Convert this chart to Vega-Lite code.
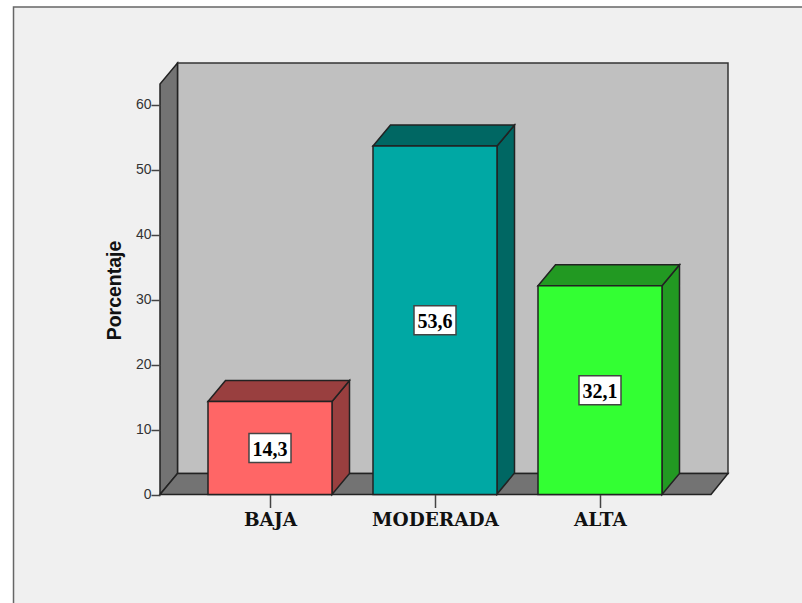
{
"$schema":"https://vega.github.io/schema/vega-lite/v6.json",
"width":568,"height":431.5,"autosize":"none",
"padding":{"left":160,"top":63,"right":74,"bottom":108.5},
"background":"#ffffff",
"config":{"view":{"stroke":null}},
"datasets":{
"barras":[
{"categoria":"BAJA","posicion":1,"porcentaje":14.3,"etiqueta":"14,3"},
{"categoria":"MODERADA","posicion":2,"porcentaje":53.6,"etiqueta":"53,6"},
{"categoria":"ALTA","posicion":3,"porcentaje":32.1,"etiqueta":"32,1"}
],
"fondo":[{"parte":"fondo"}]
},
"layer":[
{"data":{"name":"fondo"},
 "mark":{"type":"rect","fill":"#f0f0f0","stroke":"#666666","strokeWidth":1.5},
 "encoding":{
  "x":{"datum":-0.5545,"type":"quantitative","scale":{"domain":[0.33333,3.77576],"nice":false,"zero":false,"padding":0},
   "axis":{"values":[1,2,3],"title":null,"grid":false,"domain":false,"zindex":1,"tickSize":13,"tickColor":"#444444","tickWidth":1.5,"labelPadding":3,"labelFont":"DejaVu Serif","labelFontWeight":"bold","labelFontSize":18.5,"labelColor":"#111111",
    "labelExpr":"datum.value==1?'BAJA':datum.value==2?'MODERADA':'ALTA'"}},
  "x2":{"datum":4.2424},
  "y":{"datum":75,"type":"quantitative","scale":{"domain":[0,66.385],"nice":false,"zero":false},
   "axis":{"values":[0,10,20,30,40,50,60],"title":"Porcentaje","titleFont":"Liberation Sans","titleFontWeight":"bold","titleFontSize":19.5,"titleColor":"#111111","titleX":-36,"titleY":227,"grid":false,"domain":false,"zindex":1,"tickSize":9,"tickColor":"#444444","tickWidth":1.5,"labelPadding":0,"labelFont":"Liberation Sans","labelFontSize":14,"labelColor":"#333333"}},
  "y2":{"datum":-17.15}
 }},
{"data":{"name":"fondo"},
 "mark":{"type":"rect","fill":"#c0c0c0","stroke":"#333333","strokeWidth":1.5},
 "encoding":{
  "x":{"datum":0.43939,"type":"quantitative"},"x2":{"datum":3.77576},
  "y":{"datum":3.23,"type":"quantitative"},"y2":{"datum":66.385}
 }},
{"data":{"name":"fondo"},
 "mark":{"type":"point","filled":true,"opacity":1,"fill":"#737373","stroke":"#222222","strokeWidth":1.5,"size":1000000,
  "shape":"M0,0L.035,-.042L.035,-.863L0,-.821Z"},
 "encoding":{"x":{"datum":0.33333,"type":"quantitative"},"y":{"datum":0,"type":"quantitative"}}},
{"data":{"name":"fondo"},
 "mark":{"type":"point","filled":true,"opacity":1,"fill":"#737373","stroke":"#222222","strokeWidth":1.5,"size":1000000,
  "shape":"M0,0L.035,-.042L1.136,-.042L1.102,0Z"},
 "encoding":{"x":{"datum":0.33333,"type":"quantitative"},"y":{"datum":0,"type":"quantitative"}}},
{"data":{"name":"barras"},
 "mark":{"type":"point","filled":true,"opacity":1,"stroke":"#222222","strokeWidth":1.5,"size":40000},
 "encoding":{
  "x":{"field":"posicion","type":"quantitative"},
  "y":{"field":"porcentaje","type":"quantitative"},
  "fill":{"field":"categoria","type":"nominal","legend":null,"scale":{"domain":["BAJA","MODERADA","ALTA"],"range":["#993f3f","#006763","#229922"]}},
  "shape":{"field":"categoria","type":"nominal","legend":null,"scale":{"domain":["BAJA","MODERADA","ALTA"],
   "range":["M.62,0L.795,-.21L.795,.72L.62,.93Z","M.62,0L.795,-.21L.795,3.27L.62,3.48Z","M.62,0L.795,-.21L.795,1.876L.62,2.086Z"]}}
 }},
{"data":{"name":"barras"},
 "mark":{"type":"point","filled":true,"opacity":1,"stroke":"#222222","strokeWidth":1.5,"size":40000,
  "shape":"M-.62,0L-.445,-.21L.795,-.21L.62,0Z"},
 "encoding":{
  "x":{"field":"posicion","type":"quantitative"},
  "y":{"field":"porcentaje","type":"quantitative"},
  "fill":{"field":"categoria","type":"nominal","legend":null,"scale":{"domain":["BAJA","MODERADA","ALTA"],"range":["#993f3f","#006763","#229922"]}}
 }},
{"data":{"name":"barras"},
 "mark":{"type":"bar","size":124,"stroke":"#222222","strokeWidth":1.5,"opacity":1},
 "encoding":{
  "x":{"field":"posicion","type":"quantitative"},
  "y":{"field":"porcentaje","type":"quantitative"},
  "color":{"field":"categoria","type":"nominal","legend":null,"scale":{"domain":["BAJA","MODERADA","ALTA"],"range":["#ff6666","#00a8a4","#33ff33"]}}
 }},
{"data":{"name":"barras"},
 "transform":[{"calculate":"datum.porcentaje/2","as":"mitad"}],
 "mark":{"type":"point","filled":true,"opacity":1,"fill":"#ffffff","stroke":"#444444","strokeWidth":1.5,"size":1764,
  "shape":"M-1,-.69H1V.69H-1Z"},
 "encoding":{
  "x":{"field":"posicion","type":"quantitative"},
  "y":{"field":"mitad","type":"quantitative"}
 }},
{"data":{"name":"barras"},
 "transform":[{"calculate":"datum.porcentaje/2","as":"mitad"}],
 "mark":{"type":"text","font":"Liberation Serif","fontWeight":"bold","fontSize":20,"color":"#000000","baseline":"middle","align":"center","dy":1.5},
 "encoding":{
  "x":{"field":"posicion","type":"quantitative"},
  "y":{"field":"mitad","type":"quantitative"},
  "text":{"field":"etiqueta","type":"nominal"}
 }}
],
"resolve":{"scale":{"fill":"independent","color":"independent"}}
}
